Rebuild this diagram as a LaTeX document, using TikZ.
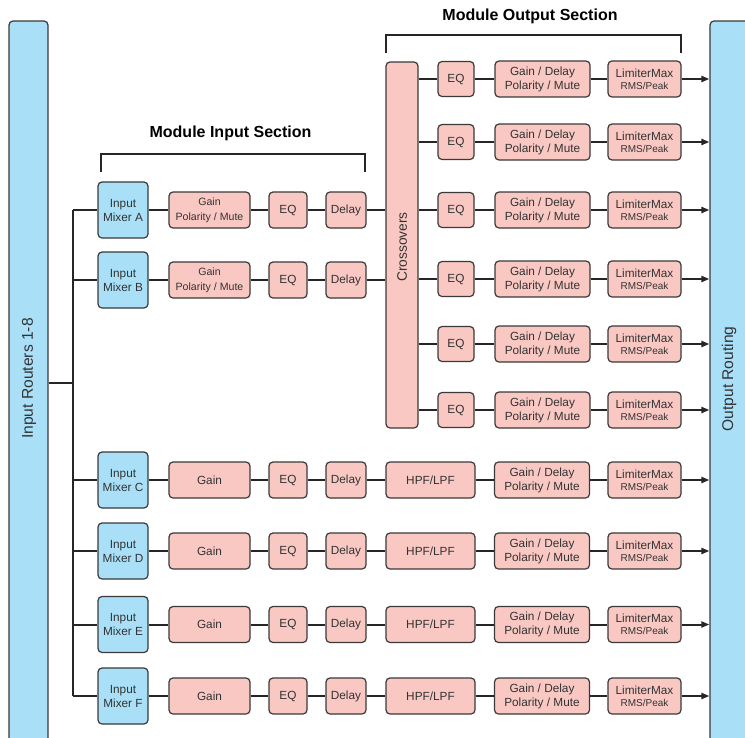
\documentclass[tikz,border=0pt]{standalone}
\usepackage{fontspec}
\setmainfont{Liberation Sans}
\usetikzlibrary{arrows.meta}
\definecolor{pinkc}{HTML}{F9C8C3}
\definecolor{bluec}{HTML}{A9E0F8}
\definecolor{linec}{HTML}{262626}
\definecolor{boxc}{HTML}{3A3A3A}
\definecolor{textc}{HTML}{333333}
\tikzset{
  blk/.style={draw=boxc, line width=1.2pt, rounded corners=4pt, inner sep=0pt, align=center, text=textc},
  pinkbox/.style={blk, fill=pinkc},
  bluebox/.style={blk, fill=bluec},
  wire/.style={draw=linec, line width=2pt},
  arrowwire/.style={wire, -{Triangle[length=8pt,width=6pt]}},
  fmain/.style={font=\fontsize{11.8}{14}\selectfont},
  fsmall/.style={font=\fontsize{10.6}{15}\selectfont},
  mixer/.style={bluebox, fmain, minimum width=50pt, minimum height=56pt},
  gainin/.style={pinkbox, minimum width=81pt, minimum height=36pt},
  eqin/.style={pinkbox, fmain, minimum width=38pt, minimum height=36pt},
  delayb/.style={pinkbox, fmain, minimum width=40pt, minimum height=36pt},
  eqout/.style={pinkbox, fmain, minimum width=36pt, minimum height=35pt},
  gdbox/.style={pinkbox, fmain, minimum width=95pt, minimum height=36pt},
  limbox/.style={pinkbox, fmain, minimum width=73pt, minimum height=36pt},
  hpfbox/.style={pinkbox, fmain, minimum width=89pt, minimum height=36pt},
  title/.style={font=\fontsize{16}{19}\selectfont\bfseries, text=black},
  bigtext/.style={font=\fontsize{15.6}{18}\selectfont, text=textc, rotate=90},
}
\newcommand{\limtext}{LimiterMax\\[-2pt]{\fontsize{10}{11}\selectfont RMS/Peak}}
\newcommand{\gdtext}{Gain / Delay\\Polarity / Mute}
\begin{document}
\begin{tikzpicture}[x=1pt,y=-1pt]
\clip (0,0) rectangle (745,737);
\fill[white] (0,0) rectangle (745,737);
% side bars
\node[bluebox, minimum width=39pt, minimum height=740pt] (inr) at (28.5,391) {};
\node[bigtext] (inrt) at (29,378.5) {Input Routers 1-8};
\node[bluebox, minimum width=50pt, minimum height=740pt] (outr) at (735,391) {};
\node[bigtext] (outrt) at (729,379) {Output Routing};
% brackets and titles
\node[title] (tin) at (230.5,133) {Module Input Section};
\node[title] (tout) at (530,16) {Module Output Section};
\coordinate (bi1) at (101,172); \coordinate (bi2) at (365,172);
\coordinate (bo1) at (386,53); \coordinate (bo2) at (681,53);
\draw[wire] (bi1) -- ++(0,-18) -| (bi2);
\draw[wire] (bo1) -- ++(0,-18) -| (bo2);
% trunk
\coordinate (tm) at (73,383);
\draw[wire] (inr.east |- tm) -- (tm);
% input rows
\foreach \r/\y/\l/\g/\f in {A/210/A/{Gain\\Polarity / Mute}/fsmall,B/280/B/{Gain\\Polarity / Mute}/fsmall,C/480/C/Gain/fmain,D/551/D/Gain/fmain,E/624.5/E/Gain/fmain,F/696/F/Gain/fmain}{
  \node[mixer] (mix\r) at (123,\y) {Input\\Mixer \l};
  \node[gainin, \f] (gain\r) at (209.5,\y) {\g};
  \node[eqin] (eq\r) at (288,\y) {EQ};
  \node[delayb] (del\r) at (346,\y) {Delay};
  \coordinate (t\r) at (73,\y);
  \draw[wire] (t\r) -- (mix\r) -- (gain\r) -- (eq\r) -- (del\r);
}
\draw[wire] (tA) -- (tF);
% crossovers
\node[pinkbox, minimum width=32pt, minimum height=366pt] (xo) at (402,245) {};
\node[font=\fontsize{13.8}{16}\selectfont, text=textc, rotate=90] (xot) at (402,247) {Crossovers};
\draw[wire] (delA) -- (delA -| xo.west);
\draw[wire] (delB) -- (delB -| xo.west);
\foreach \i/\y in {1/79,2/142,3/210,4/279,5/344,6/410}{
  \node[eqout] (oeq\i) at (456,\y) {EQ};
  \node[gdbox] (ogd\i) at (542.5,\y) {\gdtext};
  \node[limbox] (olim\i) at (644.5,\y) {\limtext};
  \draw[wire] (oeq\i -| xo.east) -- (oeq\i) -- (ogd\i) -- (olim\i);
  \draw[arrowwire] (olim\i) -- (olim\i -| outr.west);
}
\foreach \r/\y in {C/480,D/551,E/624.5,F/696}{
  \node[hpfbox] (hpf\r) at (430.5,\y) {HPF/LPF};
  \node[gdbox] (gd\r) at (542,\y) {\gdtext};
  \node[limbox] (lim\r) at (644.5,\y) {\limtext};
  \draw[wire] (del\r) -- (hpf\r) -- (gd\r) -- (lim\r);
  \draw[arrowwire] (lim\r) -- (lim\r -| outr.west);
}
\end{tikzpicture}
\end{document}
